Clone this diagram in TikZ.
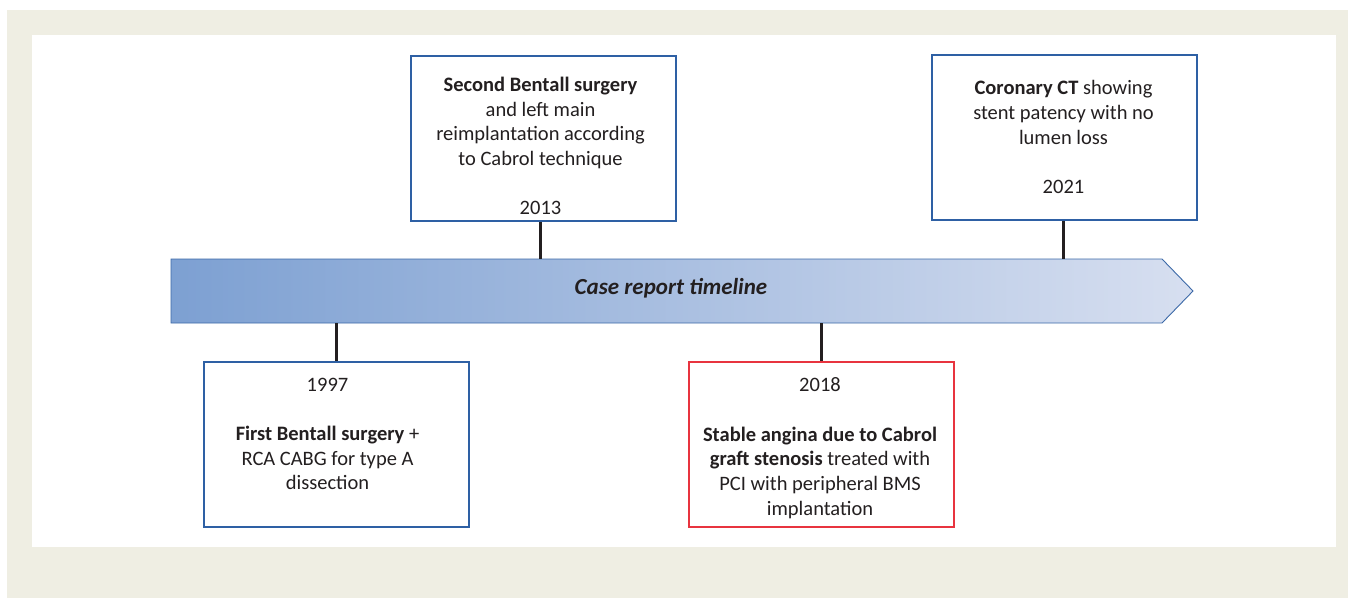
\documentclass[tikz,border=0pt]{standalone}
\usepackage{fontspec}
\setmainfont{Carlito}
\definecolor{paper}{RGB}{239,238,227}
\definecolor{boxblue}{RGB}{46,96,164}
\definecolor{boxred}{RGB}{232,52,63}
\definecolor{stemgray}{RGB}{35,31,32}
\definecolor{tlleft}{RGB}{125,160,210}
\definecolor{tlright}{RGB}{215,223,240}
\definecolor{tlborder}{RGB}{60,105,168}
\tikzset{
  evbox/.style={draw=boxblue, line width=2.4pt, fill=white, minimum width=265pt, minimum height=165pt, anchor=north west, inner sep=0pt},
  evtext/.style={align=center, text=stemgray, inner sep=0pt, font=\fontsize{20.5}{24.7}\selectfont},
  stem/.style={draw=stemgray, line width=2.5pt},
  tlarrow/.style={draw=tlborder, line width=0.9pt, left color=tlleft, right color=tlright}
}
\begin{document}
\begin{tikzpicture}[x=1pt,y=-1pt]
\useasboundingbox (0,0) rectangle (1348,598);
% frame
\fill[paper] (7,10) rectangle (1348,598);
\fill[white] (32,35) rectangle (1336,547);
% timeline arrow
\path[tlarrow] (171,259) -- (1162,259) -- (1193,291) -- (1162,323) -- (171,323) -- cycle;
\node[evtext, font=\fontsize{23}{26}\selectfont\bfseries\itshape] (tl) at (671,288) {Case report timeline};
\coordinate (tltop) at (0,259);
\coordinate (tlbot) at (0,323);
% event boxes
\node[evbox] (b2013) at (410,55) {};
\node[evbox] (b2021) at (931,54) {};
\node[evbox] (b1997) at (203,361) {};
\node[evbox, draw=boxred] (b2018) at (688,361) {};
\node[evtext] (t2013) at (540.5,146) {\textbf{Second Bentall surgery}\\and left main\\reimplantation according\\to Cabrol technique\\[24.7pt]2013};
\node[evtext] (t2021) at (1063.5,137) {\textbf{Coronary CT} showing\\stent patency with no\\lumen loss\\[24.7pt]2021};
\node[evtext] (t1997) at (327.5,434) {1997\\[24.7pt]\textbf{First Bentall surgery} +\\RCA CABG for type A\\dissection};
\node[evtext] (t2018) at (820,448) {2018\\[24.7pt]\textbf{Stable angina due to Cabrol}\\\textbf{graft stenosis} treated with\\PCI with peripheral BMS\\implantation};
% stems
\draw[stem] ([xshift=-3pt]b2013.south) -- ([xshift=-3pt]b2013.south |- tltop);
\draw[stem] ([xshift=-1pt]b2021.south) -- ([xshift=-1pt]b2021.south |- tltop);
\draw[stem] (b1997.north |- tlbot) -- (b1997.north);
\draw[stem] (b2018.north |- tlbot) -- (b2018.north);
\end{tikzpicture}
\end{document}
